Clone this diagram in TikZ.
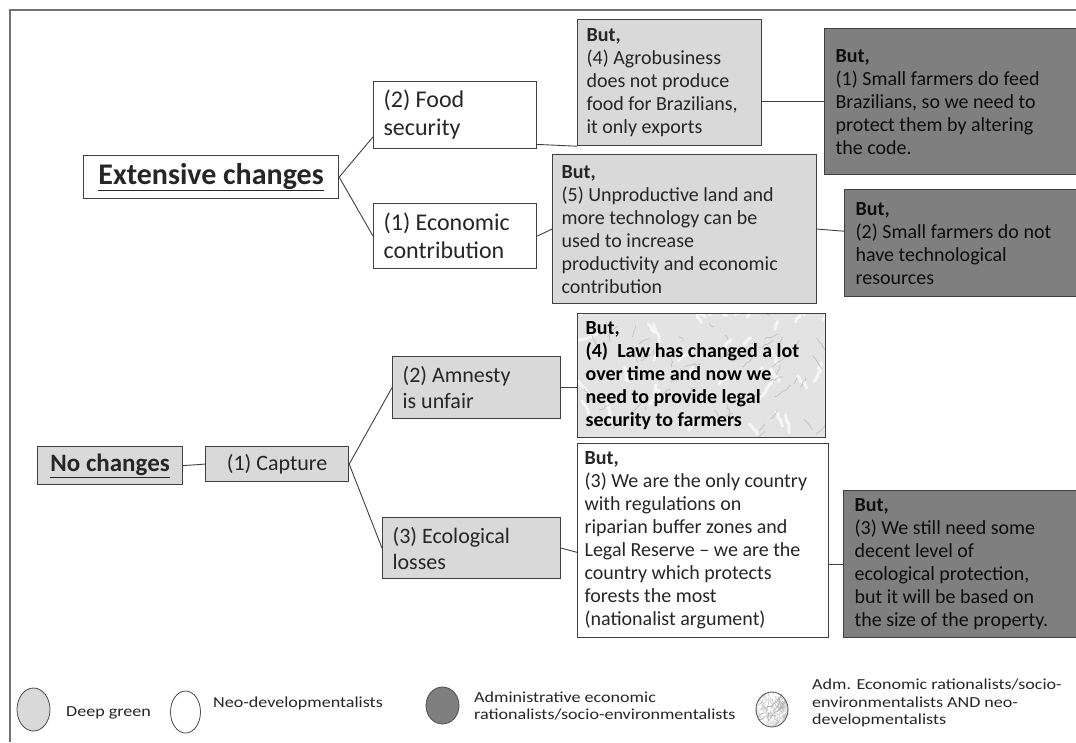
\documentclass[tikz,border=0pt]{standalone}
\usepackage{fontspec}
\setmainfont{Carlito}
\newfontfamily\legendfamily[FakeStretch=1.18]{Carlito}
\usepackage{tikz}
\usetikzlibrary{calc,shapes.geometric,decorations.pathmorphing}
\definecolor{lightbox}{HTML}{D9D9D9}
\definecolor{darkbox}{HTML}{7F7F7F}
\definecolor{marblebg}{HTML}{E3E3E3}
\newcommand{\headfont}{\fontsize{30}{34}\selectfont\bfseries}
\newcommand{\subheadfont}{\fontsize{25}{29}\selectfont\bfseries}
\newcommand{\branchfont}{\fontsize{24}{28}\selectfont}
\newcommand{\leaffont}{\fontsize{22}{26}\selectfont}
\newcommand{\argfont}{\fontsize{20}{23}\selectfont}
\newcommand{\legfont}{\legendfamily\fontsize{15.3}{17.5}\selectfont}

\begin{document}
\begin{tikzpicture}[x=1pt,y=-1pt]
    \tikzset{box/.style = {draw=black!75, line width=1.2pt, anchor=north west, inner xsep=10pt, inner ysep=0pt, align=flush left, text=black!85}}
    \tikzset{deep/.style = {box, fill=lightbox}}
    \tikzset{neo/.style = {box, fill=white}}
    \tikzset{adm/.style = {box, fill=darkbox, text=black!95}}
    \tikzset{vein/.style = {line cap=round, decorate, decoration={random steps, segment length=3pt, amplitude=1.2pt}}}
    \tikzset{marble/.style 2 args = {fill=marblebg, path picture={
        \foreach \k in {1,...,40}{
          \draw[vein, draw=white, line width=3pt, opacity=0.7] ([shift={({(rnd-0.5)*#1},{(rnd-0.5)*#2})}]path picture bounding box.center) -- ++({-12+rnd*30},{-4-rnd*14});
        }
        \foreach \k in {1,...,50}{
          \draw[vein, draw=gray!60, line width=0.6pt, opacity=0.8] ([shift={({(rnd-0.5)*#1},{(rnd-0.5)*#2})}]path picture bounding box.center) -- ++({-10+rnd*28},{-3-rnd*12});
        }}}}
    \tikzset{edge/.style = {draw=black!75, line width=0.9pt}}
    \tikzset{frame/.style = {draw=black!55, line width=1.4pt}}
    \tikzset{legdot/.style = {ellipse, draw=black!70, line width=0.8pt, inner sep=0pt}}
    \tikzset{legtext/.style = {anchor=west, inner sep=0pt, align=left, font=\legfont, text=black!85}}
    \useasboundingbox (0,0) rectangle (1076,742);
    \pgfmathsetseed{11}
    \draw[frame] (10,742) -- (10,10) -- (1076,10);
    % upper tree
    \node[neo, minimum width=255pt, minimum height=43pt, align=center, font=\headfont] (ext) at (83,155) {\underline{Extensive changes}};
    \node[neo, minimum width=163pt, minimum height=67pt, text width=143pt, font=\branchfont] (food) at (373,81) {(2) Food\\security};
    \node[neo, minimum width=163pt, minimum height=65pt, text width=143pt, font=\branchfont] (econ) at (373,203) {(1) Economic\\contribution};
    \node[deep, minimum width=184pt, minimum height=126pt, text width=166pt, inner xsep=9pt, font=\argfont] (agro) at (577,19) {\textbf{But,}\\(4) Agrobusiness\\does not produce\\food for Brazilians,\\it only exports};
    \node[adm, minimum width=262pt, minimum height=146pt, text width=240pt, inner xsep=11pt, font=\argfont] (feed) at (824,28) {\textbf{But,}\\(1) Small farmers do feed\\Brazilians, so we need to\\protect them by altering\\the code.};
    \node[deep, minimum width=264pt, minimum height=149pt, text width=246pt, inner xsep=9pt, font=\argfont] (unprod) at (552,154) {\textbf{But,}\\(5) Unproductive land and\\more technology can be\\used to increase\\productivity and economic\\contribution};
    \node[adm, minimum width=242pt, minimum height=107pt, text width=220pt, inner xsep=11pt, font=\argfont] (notres) at (844,189) {\textbf{But,}\\(2) Small farmers do not\\have technological\\resources};
    % lower tree
    \node[deep, minimum width=145pt, minimum height=38pt, align=center, font=\subheadfont] (nochg) at (37,446) {\underline{No changes}};
    \node[deep, minimum width=143pt, minimum height=35pt, align=center, font=\leaffont] (capture) at (205,446) {(1) Capture};
    \node[deep, minimum width=168pt, minimum height=62pt, text width=148pt, font=\leaffont] (amnesty) at (392,356) {(2) Amnesty\\is unfair};
    \node[deep, minimum width=178pt, minimum height=61pt, text width=158pt, font=\leaffont] (eco) at (382,517) {(3) Ecological\\losses};
    \node[box, marble={248}{124}, minimum width=248pt, minimum height=124pt, text width=232pt, inner xsep=8pt, font=\argfont\bfseries, text=black] (law) at (577,313) {But,\\(4)\ \ Law has changed a lot\\over time and now we\\need to provide legal\\security to farmers};
    \node[neo, minimum width=251pt, minimum height=194pt, text width=237pt, inner xsep=7pt, font=\argfont] (reg) at (577,443) {\textbf{But,}\\(3) We are the only country\\with regulations on\\riparian buffer zones and\\Legal Reserve – we are the\\country which protects\\forests the most\\(nationalist argument)};
    \node[adm, minimum width=242pt, minimum height=147pt, text width=220pt, inner xsep=11pt, font=\argfont] (still) at (843,490) {\textbf{But,}\\(3) We still need some\\decent level of\\ecological protection,\\but it will be based on\\the size of the property.};
    %edges
    \draw[edge] (ext.east) to ($(food.south west)!0.18!(food.north west)$);
    \draw[edge] (ext.east) to (econ.west);
    \draw[edge] ($(food.south east)!0.07!(food.north east)$) to (agro.south west);
    \draw[edge] (agro.east |- feed.west) to (feed.west);
    \draw[edge] (econ.east) to (unprod.west);
    \draw[edge] (unprod.east) to ($(notres.north west)!0.39!(notres.south west)$);
    \draw[edge] (nochg.east) to (capture.west);
    \draw[edge] (capture.east) to (amnesty.west);
    \draw[edge] (capture.east) to (eco.west);
    \draw[edge] (amnesty.east) to (amnesty.east -| law.west);
    \draw[edge] (eco.east) to ($(reg.north west)!0.56!(reg.south west)$);
    \draw[edge] (reg.east |- still.west) to (still.west);
    % legend
    \node[legdot, fill=lightbox, minimum width=33pt, minimum height=43pt] (kdeep) at (33.5,709.5) {};
    \node[legtext] (tdeep) at (66,713) {Deep green};
    \node[legdot, fill=white, minimum width=30pt, minimum height=42pt] (kneo) at (185.5,712) {};
    \node[legtext] (tneo) at (213,703) {Neo-developmentalists};
    \node[legdot, fill=darkbox, minimum width=33pt, minimum height=37pt] (kadm) at (442.5,705.5) {};
    \node[legtext] (tadm) at (474,706) {Administrative economic\\rationalists/socio-environmentalists};
    \node[legdot, marble={32}{35}, minimum width=32pt, minimum height=35pt] (kmix) at (772,709.5) {};
    \node[legtext] (tmix) at (812,703) {Adm. Economic rationalists/socio-\\environmentalists AND neo-\\developmentalists};
\end{tikzpicture}
\end{document}
